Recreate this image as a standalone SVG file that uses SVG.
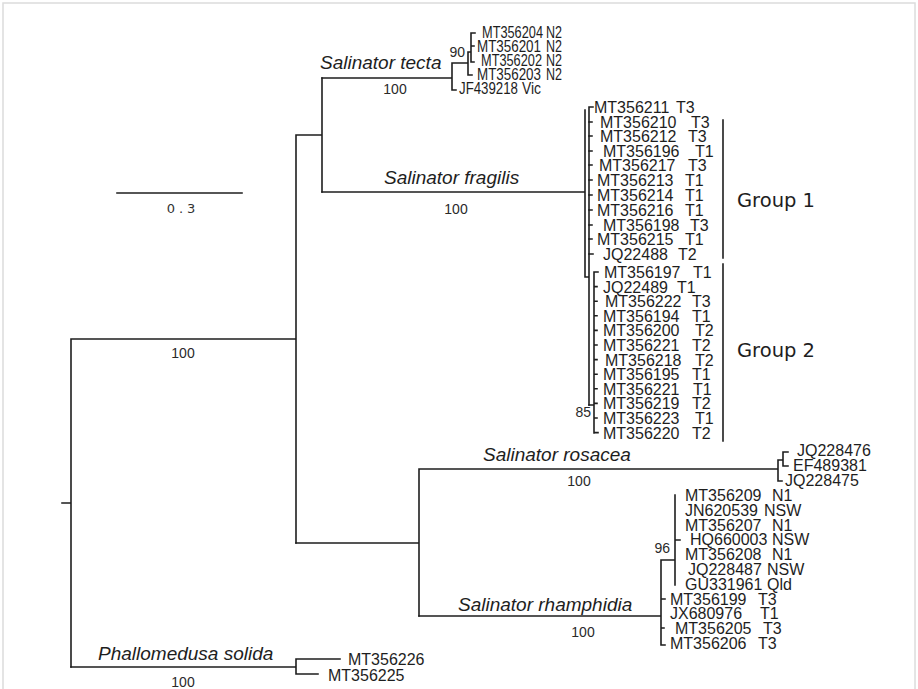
<svg xmlns="http://www.w3.org/2000/svg" width="918" height="689" viewBox="0 0 918 689">
<style>
.e{fill:none;stroke:#1e1e1e;stroke-width:1.6;stroke-linecap:square}
.t{font-family:"Liberation Sans",Arial,sans-serif;font-size:16px;fill:#1e1e1e}
.s{font-family:"Liberation Sans",Arial,sans-serif;font-size:16px;fill:#1e1e1e}
.b{font-family:"Liberation Sans",Arial,sans-serif;font-size:14px;fill:#2a2a2a;text-anchor:middle}
.n{font-family:"Liberation Sans",Arial,sans-serif;font-size:19px;font-style:italic;fill:#1e1e1e}
.g{font-family:"DejaVu Sans",Verdana,sans-serif;font-size:19.5px;fill:#1e1e1e}
</style>
<rect x="3" y="3" width="912" height="700" fill="#fff" stroke="#dcdcdc" stroke-width="1.5"/>
<g id="connectors" class="e">
<path d="M62 503H71M71 339V667M71 339H296M296 135V543M296 135H322M322 78V192"/>
<path d="M322 78H452M452 63V90M452 90H456M452 63H468M468 52V75M468 75H472M468 52H471M471 33V62M471 33H475M471 46H474M471 62H474"/>
<path d="M322 192H585M585 110V277M585 277H589M589 107V405M589 107H593"/>
<path d="M589 122H592M589 136H592M589 151H592M589 165H592M589 180H592M589 195H592M589 210H592M589 225H592M589 239H592M589 254H593"/>
<path d="M589 405H594M594 272V433M594 272H598M594 286.6H597M594 301.2H597M594 315.8H597M594 330.4H597M594 345H597M594 359.6H597M594 374.2H597M594 388.8H597M594 403.4H597M594 418H597M594 432.6H598"/>
<path d="M723 120V258M723 264V441"/>
<path d="M296 543H419M419 469V616M419 469H778M778 460V481M778 481H782M778 460H783M783 452V466M783 452H788M783 466H788"/>
<path d="M419 616H661M661 560V645M661 645H665M661 599H665M661 628H664M661 560H675M675 495V585M675 540H680"/>
<path d="M71 667H296M296 659V674M296 659H340M296 674H318"/>
<path d="M117 193H242"/>
</g>
<g id="scale"><text x="183" y="213" style="font-family:'DejaVu Sans',sans-serif;font-size:13px;fill:#333;letter-spacing:4px" text-anchor="middle">0.3</text></g>
<g id="support" class="b">
<text x="183" y="358">100</text>
<text x="395" y="94">100</text>
<text x="456" y="214">100</text>
<text x="579" y="486">100</text>
<text x="583" y="637">100</text>
<text x="183" y="687">100</text>
<text x="465" y="57" style="text-anchor:end">90</text>
<text x="591" y="417" style="text-anchor:end">85</text>
<text x="670" y="553" style="text-anchor:end">96</text>
</g>
<g id="clade-names" class="n">
<text x="320" y="69">Salinator tecta</text>
<text x="384" y="184">Salinator fragilis</text>
<text x="483" y="461">Salinator rosacea</text>
<text x="458" y="611">Salinator rhamphidia</text>
<text x="98" y="660">Phallomedusa solida</text>
</g>
<g id="tecta" class="s">
<g id="MT356204"><text x="482" y="37.5" textLength="61" lengthAdjust="spacingAndGlyphs">MT356204</text><text x="546" y="37.5" textLength="16" lengthAdjust="spacingAndGlyphs">N2</text></g>
<g id="MT356201"><text x="477" y="51.5" textLength="64" lengthAdjust="spacingAndGlyphs">MT356201</text><text x="546" y="51.5" textLength="16" lengthAdjust="spacingAndGlyphs">N2</text></g>
<g id="MT356202"><text x="481" y="65.5" textLength="61" lengthAdjust="spacingAndGlyphs">MT356202</text><text x="546" y="65.5" textLength="16" lengthAdjust="spacingAndGlyphs">N2</text></g>
<g id="MT356203"><text x="477" y="79.5" textLength="64" lengthAdjust="spacingAndGlyphs">MT356203</text><text x="546" y="79.5" textLength="16" lengthAdjust="spacingAndGlyphs">N2</text></g>
<g id="JF439218"><text x="459" y="93.5" textLength="59" lengthAdjust="spacingAndGlyphs">JF439218</text><text x="522" y="93.5" textLength="19" lengthAdjust="spacingAndGlyphs">Vic</text></g>
</g>
<g id="fragilis" class="t">
<g id="MT356211"><text x="594" y="113">MT356211</text><text x="676" y="113">T3</text></g>
<g id="MT356210"><text x="600" y="128">MT356210</text><text x="691" y="128">T3</text></g>
<g id="MT356212"><text x="600" y="142">MT356212</text><text x="688" y="142">T3</text></g>
<g id="MT356196"><text x="603" y="157">MT356196</text><text x="695" y="157">T1</text></g>
<g id="MT356217"><text x="599" y="171">MT356217</text><text x="688" y="171">T3</text></g>
<g id="MT356213"><text x="597" y="186">MT356213</text><text x="685" y="186">T1</text></g>
<g id="MT356214"><text x="597" y="201">MT356214</text><text x="685" y="201">T1</text></g>
<g id="MT356216"><text x="597" y="216">MT356216</text><text x="685" y="216">T1</text></g>
<g id="MT356198"><text x="603" y="231">MT356198</text><text x="690" y="231">T3</text></g>
<g id="MT356215"><text x="597" y="245">MT356215</text><text x="685" y="245">T1</text></g>
<g id="JQ22488"><text x="603" y="260">JQ22488</text><text x="678" y="260">T2</text></g>
<g id="MT356197"><text x="604" y="278">MT356197</text><text x="693" y="278">T1</text></g>
<g id="JQ22489"><text x="603" y="292.6">JQ22489</text><text x="677" y="292.6">T1</text></g>
<g id="MT356222"><text x="605" y="307.2">MT356222</text><text x="692" y="307.2">T3</text></g>
<g id="MT356194"><text x="603" y="321.8">MT356194</text><text x="692" y="321.8">T1</text></g>
<g id="MT356200"><text x="603" y="336.4">MT356200</text><text x="695" y="336.4">T2</text></g>
<g id="MT356221a"><text x="603" y="351">MT356221</text><text x="692" y="351">T2</text></g>
<g id="MT356218"><text x="605" y="365.6">MT356218</text><text x="695" y="365.6">T2</text></g>
<g id="MT356195"><text x="603" y="380.2">MT356195</text><text x="692" y="380.2">T1</text></g>
<g id="MT356221b"><text x="603" y="394.8">MT356221</text><text x="693" y="394.8">T1</text></g>
<g id="MT356219"><text x="603" y="409.4">MT356219</text><text x="692" y="409.4">T2</text></g>
<g id="MT356223"><text x="603" y="424">MT356223</text><text x="695" y="424">T1</text></g>
<g id="MT356220"><text x="603" y="438.6">MT356220</text><text x="692" y="438.6">T2</text></g>
</g>
<g id="group1" class="g"><text x="737" y="207">Group 1</text></g>
<g id="group2" class="g"><text x="737" y="357">Group 2</text></g>
<g id="rosacea" class="t">
<g id="JQ228476"><text x="797" y="456">JQ228476</text></g>
<g id="EF489381"><text x="793" y="471">EF489381</text></g>
<g id="JQ228475"><text x="785" y="486">JQ228475</text></g>
</g>
<g id="rhamphidia" class="t">
<g id="MT356209"><text x="685" y="501">MT356209</text><text x="772" y="501">N1</text></g>
<g id="JN620539"><text x="685" y="515.8">JN620539</text><text x="764" y="515.8">NSW</text></g>
<g id="MT356207"><text x="685" y="530.6">MT356207</text><text x="772" y="530.6">N1</text></g>
<g id="HQ660003"><text x="690" y="545.4">HQ660003</text><text x="772" y="545.4">NSW</text></g>
<g id="MT356208"><text x="685" y="560.2">MT356208</text><text x="772" y="560.2">N1</text></g>
<g id="JQ228487"><text x="688" y="575">JQ228487</text><text x="767" y="575">NSW</text></g>
<g id="GU331961"><text x="685" y="589.8">GU331961</text><text x="767" y="589.8">Qld</text></g>
<g id="MT356199"><text x="670" y="604.6">MT356199</text><text x="758" y="604.6">T3</text></g>
<g id="JX680976"><text x="670" y="619.4">JX680976</text><text x="760" y="619.4">T1</text></g>
<g id="MT356205"><text x="675" y="634.2">MT356205</text><text x="763" y="634.2">T3</text></g>
<g id="MT356206"><text x="670" y="649">MT356206</text><text x="758" y="649">T3</text></g>
</g>
<g id="phallomedusa" class="t">
<g id="MT356226"><text x="348" y="665">MT356226</text></g>
<g id="MT356225"><text x="328" y="681">MT356225</text></g>
</g>
</svg>
